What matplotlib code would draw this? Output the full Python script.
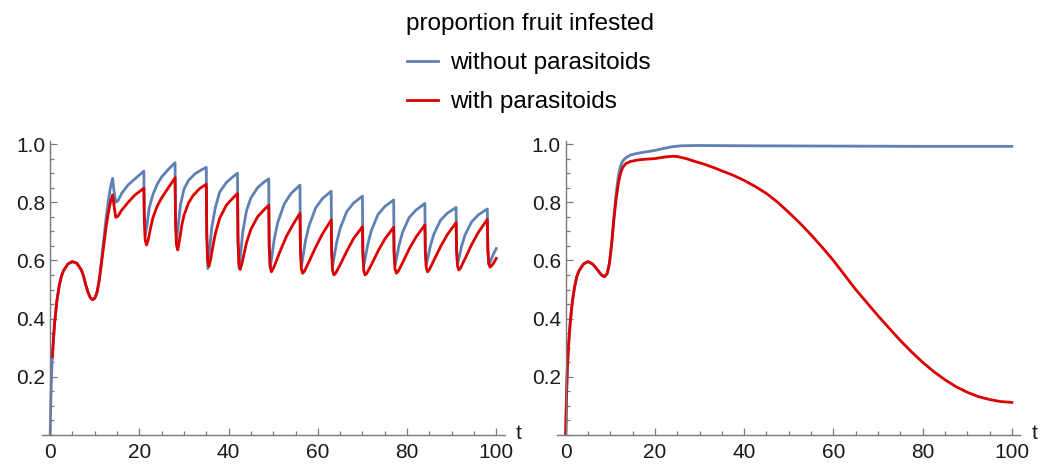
import matplotlib
matplotlib.use('Agg')
import matplotlib.pyplot as plt
from matplotlib.ticker import MultipleLocator

plt.rcParams['font.family'] = ['Liberation Sans', 'DejaVu Sans']

# --- left panel: periodic releases ---
left_t_without = [
    0, 0.15, 0.35, 0.6, 1, 1.5, 2, 2.5, 3, 4, 5, 6, 7, 7.5, 8, 8.5, 9, 9.5,
    10, 10.5, 11, 11.5, 12, 12.5, 13, 13.5, 14, 14.3, 14.7, 15.2, 16, 17.5, 19, 21,
    21.1, 21.35, 21.7, 22.2, 23, 24, 25, 26.5, 28,
    28.1, 28.35, 28.7, 29.2, 30, 31, 32.5, 34, 35,
    35.1, 35.35, 35.7, 36.2, 37, 38, 39.5, 41, 42,
    42.1, 42.35, 42.7, 43.2, 44, 45, 46.5, 48, 49,
    49.1, 49.35, 49.7, 50.2, 51, 52.5, 54, 56,
    56.1, 56.35, 56.7, 57.2, 58, 59.5, 61, 63,
    63.1, 63.35, 63.7, 64.2, 65, 66.5, 68, 70,
    70.1, 70.35, 70.7, 71.2, 72, 73.5, 75, 77,
    77.1, 77.35, 77.7, 78.2, 79, 80.5, 82, 84,
    84.1, 84.35, 84.7, 85.2, 86, 87.5, 89, 91,
    91.1, 91.35, 91.7, 92.2, 93, 94.5, 96, 98,
    98.1, 98.4, 98.8, 99.3, 100]
left_y_without = [
    0, 0.12, 0.22, 0.30, 0.385, 0.46, 0.51, 0.545, 0.565, 0.588, 0.596, 0.59, 0.567, 0.545, 0.515, 0.49, 0.472, 0.465,
    0.47, 0.49, 0.535, 0.60, 0.67, 0.74, 0.80, 0.85, 0.882, 0.84, 0.80, 0.805, 0.83, 0.86, 0.88, 0.907,
    0.76, 0.69, 0.72, 0.78, 0.825, 0.862, 0.887, 0.913, 0.936,
    0.74, 0.67, 0.72, 0.79, 0.845, 0.875, 0.898, 0.912, 0.92,
    0.68, 0.572, 0.63, 0.71, 0.78, 0.835, 0.868, 0.888, 0.90,
    0.66, 0.572, 0.625, 0.70, 0.77, 0.815, 0.85, 0.87, 0.88,
    0.64, 0.575, 0.615, 0.67, 0.73, 0.795, 0.83, 0.859,
    0.63, 0.582, 0.615, 0.665, 0.718, 0.78, 0.812, 0.838,
    0.63, 0.584, 0.615, 0.66, 0.71, 0.768, 0.797, 0.821,
    0.63, 0.585, 0.613, 0.655, 0.703, 0.758, 0.785, 0.808,
    0.63, 0.586, 0.612, 0.652, 0.697, 0.748, 0.773, 0.796,
    0.63, 0.587, 0.611, 0.648, 0.69, 0.738, 0.762, 0.782,
    0.63, 0.59, 0.612, 0.648, 0.688, 0.733, 0.757, 0.777,
    0.63, 0.585, 0.60, 0.62, 0.641]

left_t_with = [
    0.5, 0.7, 1, 1.5, 2, 2.5, 3, 4, 5, 6, 7, 7.5, 8, 8.5, 9, 9.5,
    10, 10.5, 11, 11.5, 12, 12.5, 13, 13.5, 14, 14.3, 14.7, 15.2, 16, 17.5, 19, 21,
    21.1, 21.3, 21.6, 22, 22.5, 23, 24, 25, 26.5, 28,
    28.1, 28.3, 28.6, 29, 29.5, 30, 31, 32, 33.5, 35,
    35.1, 35.3, 35.6, 36, 36.5, 37, 38, 39.5, 41, 42,
    42.1, 42.3, 42.6, 43, 43.5, 44, 45, 46.5, 48, 49,
    49.1, 49.3, 49.6, 50, 50.5, 51.5, 53, 54.5, 56,
    56.1, 56.3, 56.6, 57, 58, 59.5, 61, 63,
    63.1, 63.3, 63.6, 64, 65, 66.5, 68, 70,
    70.1, 70.3, 70.6, 71, 72, 73.5, 75, 77,
    77.1, 77.3, 77.6, 78, 79, 80.5, 82, 84,
    84.1, 84.3, 84.6, 85, 86, 87.5, 89, 91,
    91.1, 91.3, 91.6, 92, 93, 94.5, 96, 98,
    98.1, 98.3, 98.6, 99, 99.5, 100]
left_y_with = [
    0.27, 0.32, 0.385, 0.46, 0.51, 0.545, 0.565, 0.588, 0.596, 0.59, 0.567, 0.545, 0.515, 0.49, 0.472, 0.465,
    0.47, 0.49, 0.53, 0.59, 0.65, 0.71, 0.76, 0.80, 0.825, 0.79, 0.748, 0.752, 0.772, 0.80, 0.825, 0.848,
    0.74, 0.67, 0.653, 0.672, 0.71, 0.745, 0.787, 0.815, 0.85, 0.884,
    0.73, 0.655, 0.636, 0.67, 0.72, 0.755, 0.797, 0.822, 0.847, 0.862,
    0.70, 0.60, 0.58, 0.605, 0.65, 0.69, 0.745, 0.79, 0.815, 0.83,
    0.68, 0.59, 0.569, 0.59, 0.625, 0.66, 0.707, 0.75, 0.775, 0.79,
    0.66, 0.58, 0.561, 0.572, 0.59, 0.63, 0.684, 0.725, 0.762,
    0.64, 0.572, 0.556, 0.563, 0.595, 0.645, 0.69, 0.739,
    0.63, 0.566, 0.55, 0.556, 0.585, 0.632, 0.675, 0.716,
    0.62, 0.565, 0.55, 0.556, 0.585, 0.632, 0.673, 0.714,
    0.62, 0.571, 0.556, 0.562, 0.592, 0.64, 0.68, 0.722,
    0.63, 0.576, 0.561, 0.568, 0.60, 0.647, 0.688, 0.73,
    0.64, 0.582, 0.567, 0.574, 0.606, 0.655, 0.697, 0.741,
    0.65, 0.59, 0.577, 0.582, 0.593, 0.607]

# --- right panel: single release ---
right_t_without = [0, 0.15, 0.35, 0.6, 1, 1.5, 2, 2.5, 3, 4, 5, 6, 7, 8, 8.7, 9.3, 9.8,
                   10.3, 10.8, 11.3, 11.8, 12.3, 12.8, 13.5, 14.5, 16, 18, 20, 22, 24,
                   26, 30, 40, 60, 80, 100]
right_y_without = [0, 0.12, 0.22, 0.30, 0.385, 0.46, 0.51, 0.545, 0.565, 0.588, 0.596,
                   0.588, 0.57, 0.55, 0.544, 0.555, 0.59, 0.66, 0.75, 0.83, 0.89, 0.925,
                   0.942, 0.953, 0.962, 0.968, 0.973, 0.978, 0.985, 0.991, 0.994, 0.995,
                   0.994, 0.993, 0.992, 0.992]

right_t_with = [0, 0.15, 0.35, 0.6, 1, 1.5, 2, 2.5, 3, 4, 5, 6, 7, 8, 8.7, 9.3, 9.8,
                10.3, 10.8, 11.3, 11.8, 12.3, 12.8, 13.5, 14.5, 16, 18, 20, 22, 24, 25,
                27, 29, 31, 33, 35, 37.5, 40, 42.5, 45, 47.5, 50, 52.5, 55, 57.5, 60,
                62.5, 65, 67.5, 70, 72.5, 75, 77.5, 80, 82.5, 85, 87.5, 90, 92.5, 95,
                97.5, 100]
right_y_with = [0, 0.12, 0.22, 0.30, 0.385, 0.46, 0.51, 0.545, 0.565, 0.588, 0.596,
                0.588, 0.57, 0.55, 0.544, 0.555, 0.59, 0.655, 0.74, 0.81, 0.865, 0.90,
                0.92, 0.933, 0.94, 0.945, 0.948, 0.95, 0.955, 0.958, 0.957,
                0.95, 0.94, 0.931, 0.92, 0.908, 0.893, 0.875, 0.854, 0.83, 0.80, 0.765,
                0.728, 0.688, 0.645, 0.60, 0.55, 0.50, 0.455, 0.41, 0.367, 0.325,
                0.286, 0.25, 0.218, 0.19, 0.166, 0.147, 0.132, 0.122, 0.115, 0.112]

labels = ['without parasitoids', 'with parasitoids']
colors = ['#5e81b5', '#dd0000']
axis_grey = '#7a7a7a'
tick_fs = 15
legend_fs = 17.5


def style_axis(ax):
    ax.set_xlim(-1.9, 101.9)
    ax.set_ylim(0, 1.01)
    ax.spines['left'].set_position(('data', 0))
    ax.spines['top'].set_visible(False)
    ax.spines['right'].set_visible(False)
    for s in ('left', 'bottom'):
        ax.spines[s].set_color(axis_grey)
        ax.spines[s].set_linewidth(1.0)
    ax.set_xticks([0, 20, 40, 60, 80, 100])
    ax.set_yticks([0.2, 0.4, 0.6, 0.8, 1.0])
    ax.set_yticklabels(['0.2', '0.4', '0.6', '0.8', '1.0'])
    ax.xaxis.set_minor_locator(MultipleLocator(5))
    ax.yaxis.set_minor_locator(MultipleLocator(0.05))
    ax.tick_params(which='both', direction='in', color=axis_grey, width=0.9,
                   labelsize=tick_fs, labelcolor='#1a1a1a')
    ax.tick_params(which='major', length=5)
    ax.tick_params(which='minor', length=3)
    ax.tick_params(axis='y', pad=3.5)
    ax.tick_params(axis='x', pad=5.5)
    ax.annotate('t', xy=(1, 0), xycoords='axes fraction', xytext=(8, 1),
                textcoords='offset points', ha='left', va='center',
                fontsize=tick_fs, color='#1a1a1a')


fig = plt.figure(figsize=(10.5, 4.65), dpi=100)
ax1 = fig.add_axes([0.0397, 0.0645, 0.441, 0.632])
ax2 = fig.add_axes([0.5307, 0.0645, 0.441, 0.632])

ax1.plot(left_t_without, left_y_without, color=colors[0], lw=2.0, label=labels[0])
ax1.plot(left_t_with, left_y_with, color=colors[1], lw=2.0, label=labels[1])
ax2.plot(right_t_without, right_y_without, color=colors[0], lw=2.0)
ax2.plot(right_t_with, right_y_with, color=colors[1], lw=2.0)

style_axis(ax1)
style_axis(ax2)

handles, labs = ax1.get_legend_handles_labels()
leg = fig.legend(handles, labs, title='proportion fruit infested',
                 loc='upper left', bbox_to_anchor=(406.5 / 1050, 1 - 13 / 465),
                 frameon=False, fontsize=legend_fs, title_fontsize=legend_fs,
                 alignment='left', handlelength=1.28, handletextpad=0.5,
                 labelspacing=0.7, borderpad=0, borderaxespad=0)
for line in leg.get_lines():
    line.set_linewidth(2.0)

fig.savefig('out.png', dpi=100)
